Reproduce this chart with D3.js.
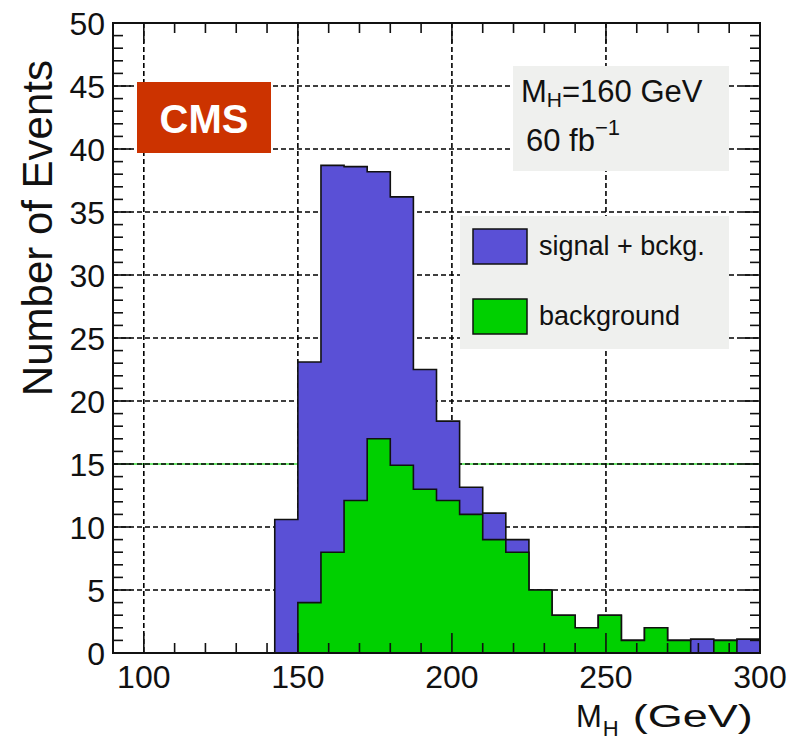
<!DOCTYPE html>
<html>
<head>
<meta charset="utf-8">
<script src="https://cdn.jsdelivr.net/npm/d3@7"></script>
<style>
    body { margin: 0; background: #fff; }
    text { font-family: "Liberation Sans", Arial, Helvetica, sans-serif; }
</style>
</head>
<body>
<div id="chart"></div>
<script>
// Histogram bin edges (GeV)
var binEdges = [142.5, 150, 157.5, 165, 172.5, 180, 187.5, 195, 202.5, 210, 217.5,
    225, 232.5, 240, 247.5, 255, 262.5, 270, 277.5, 285, 292.5, 300];

// Events per bin
var signalBkg = [10.6, 23.1, 38.7, 38.6, 38.2, 36.2, 22.5, 18.4, 13.15, 11.1, 9.0,
    5.0, 3.0, 2.0, 3.0, 1.0, 2.0, 1.0, 1.1, 1.0, 1.1];
var background = [0, 4.0, 8.0, 12.1, 17.0, 14.9, 13.0, 12.1, 11.0, 9.0, 8.0,
    5.0, 3.0, 2.0, 3.0, 1.0, 2.0, 1.0, 0, 1.0, 0];

// Axis ticks
var xTicks = [100, 150, 200, 250, 300];
var xGrid = [100, 150, 200, 250];
var yTicks = [0, 5, 10, 15, 20, 25, 30, 35, 40, 45, 50];
var yGrid = [5, 10, 15, 20, 25, 30, 35, 40, 45];

var svgWidth = 791;
var svgHeight = 746;

var margin = { top: 23, right: 31, bottom: 93, left: 113 };
var width = svgWidth - margin.left - margin.right;
var height = svgHeight - margin.top - margin.bottom;

var blue = "#5a50d6";
var green = "#00d000";
var boxFill = "#eff0ee";

var svg = d3.select("#chart")
    .append("svg")
    .attr("width", svgWidth)
    .attr("height", svgHeight);

var chartGroup = svg.append("g")
    .attr("transform", `translate(${margin.left}, ${margin.top})`);

var xScale = d3.scaleLinear().domain([90, 300]).range([0, width]);
var yScale = d3.scaleLinear().domain([0, 50]).range([height, 0]);

// Grid lines (behind everything)
var grid = chartGroup.append("g");
grid.append("line")
    .attr("x1", 0).attr("x2", width)
    .attr("y1", yScale(15)).attr("y2", yScale(15))
    .attr("stroke", "#3ee03e").attr("stroke-width", 1.5);
grid.selectAll(".hgrid")
    .data(yGrid)
    .enter()
    .append("line")
    .attr("x1", 0).attr("x2", width)
    .attr("y1", d => yScale(d)).attr("y2", d => yScale(d))
    .attr("stroke", "#000").attr("stroke-width", 1.6)
    .attr("stroke-dasharray", "5,3");
grid.selectAll(".vgrid")
    .data(xGrid)
    .enter()
    .append("line")
    .attr("x1", d => xScale(d)).attr("x2", d => xScale(d))
    .attr("y1", 0).attr("y2", height)
    .attr("stroke", "#000").attr("stroke-width", 1.6)
    .attr("stroke-dasharray", "5,3");

// Build a step outline for a histogram
function histPoints(values) {
    var pts = [[binEdges[0], 0]];
    values.forEach(function(v, i) {
        pts.push([binEdges[i], v]);
        pts.push([binEdges[i + 1], v]);
    });
    pts.push([binEdges[binEdges.length - 1], 0]);
    return pts;
}

var stepLine = d3.line()
    .x(d => xScale(d[0]))
    .y(d => yScale(d[1]));

chartGroup.append("path")
    .attr("d", stepLine(histPoints(signalBkg)) + "Z")
    .attr("fill", blue)
    .attr("stroke", "#111")
    .attr("stroke-width", 1.6)
    .attr("stroke-linejoin", "miter");

chartGroup.append("path")
    .attr("d", stepLine(histPoints(background)) + "Z")
    .attr("fill", green)
    .attr("stroke", "#111")
    .attr("stroke-width", 1.6)
    .attr("stroke-linejoin", "miter");

// Info box
svg.append("rect")
    .attr("x", 513).attr("y", 66)
    .attr("width", 216).attr("height", 105)
    .attr("fill", boxFill);

var info1 = svg.append("text")
    .attr("x", 521).attr("y", 102)
    .attr("font-size", 31)
    .attr("fill", "#111");
info1.append("tspan").text("M");
info1.append("tspan").attr("font-size", 21).attr("dy", 5).text("H");
info1.append("tspan").attr("dy", -5).text("=");
info1.append("tspan").text("160 GeV");

var info2 = svg.append("text")
    .attr("x", 526).attr("y", 151)
    .attr("font-size", 31)
    .attr("fill", "#111");
info2.append("tspan").text("60 fb");
info2.append("tspan").attr("font-size", 22).attr("dy", -16).text("\u22121");

// Legend
svg.append("rect")
    .attr("x", 460).attr("y", 216)
    .attr("width", 269).attr("height", 133)
    .attr("fill", boxFill);

var legendItems = [
    { label: "signal + bckg.", color: blue, y: 229 },
    { label: "background", color: green, y: 299 }
];

var legend = svg.selectAll(".legendItem")
    .data(legendItems)
    .enter()
    .append("g");

legend.append("rect")
    .attr("x", 473)
    .attr("y", d => d.y)
    .attr("width", 54)
    .attr("height", 35)
    .attr("fill", d => d.color)
    .attr("stroke", "#111")
    .attr("stroke-width", 1.5);

legend.append("text")
    .attr("x", 539)
    .attr("y", d => d.y + 26)
    .attr("font-size", 27)
    .attr("fill", "#111")
    .text(d => d.label);

// CMS label
svg.append("rect")
    .attr("x", 137).attr("y", 82)
    .attr("width", 134).attr("height", 71)
    .attr("fill", "#cc3300");
svg.append("text")
    .attr("x", 204).attr("y", 133)
    .attr("text-anchor", "middle")
    .attr("font-size", 40)
    .attr("font-weight", "bold")
    .attr("fill", "#fff")
    .text("CMS");

// Axes with ROOT-style ticks on all four sides
var axes = chartGroup.append("g");
var xMinor = d3.range(90, 301, 10);
var yMinor = d3.range(0, 51, 1);

axes.selectAll(".xminor")
    .data(xMinor)
    .enter()
    .append("g")
    .each(function(d) {
        var len = xTicks.indexOf(d) >= 0 ? 20 : 10;
        var g = d3.select(this);
        g.append("line")
            .attr("x1", xScale(d)).attr("x2", xScale(d))
            .attr("y1", height).attr("y2", height - len);
        g.append("line")
            .attr("x1", xScale(d)).attr("x2", xScale(d))
            .attr("y1", 0).attr("y2", len);
    });

axes.selectAll(".yminor")
    .data(yMinor)
    .enter()
    .append("g")
    .each(function(d) {
        var len = d % 5 === 0 ? 18 : 10;
        var g = d3.select(this);
        g.append("line")
            .attr("x1", 0).attr("x2", len)
            .attr("y1", yScale(d)).attr("y2", yScale(d));
        g.append("line")
            .attr("x1", width).attr("x2", width - len)
            .attr("y1", yScale(d)).attr("y2", yScale(d));
    });

axes.selectAll("line")
    .attr("stroke", "#111")
    .attr("stroke-width", 1.6);

axes.append("rect")
    .attr("x", 0).attr("y", 0)
    .attr("width", width).attr("height", height)
    .attr("fill", "none")
    .attr("stroke", "#111")
    .attr("stroke-width", 2);

// Tick labels
chartGroup.selectAll(".xlabel")
    .data(xTicks)
    .enter()
    .append("text")
    .attr("x", d => xScale(d))
    .attr("y", height + 35)
    .attr("text-anchor", "middle")
    .attr("font-size", 32)
    .attr("fill", "#111")
    .text(d => d);

chartGroup.selectAll(".ylabel")
    .data(yTicks)
    .enter()
    .append("text")
    .attr("x", -8)
    .attr("y", d => yScale(d))
    .attr("dy", "0.36em")
    .attr("text-anchor", "end")
    .attr("font-size", 32)
    .attr("fill", "#111")
    .text(d => d);

// Axis titles
var xTitle = svg.append("text")
    .attr("x", 576).attr("y", 727)
    .attr("font-size", 31)
    .attr("fill", "#111");
xTitle.append("tspan").text("M");
xTitle.append("tspan").attr("font-size", 22).attr("dy", 9).attr("dx", 1).text("H");
xTitle.append("tspan").attr("dy", -9).attr("dx", 14)
    .attr("textLength", 120).attr("lengthAdjust", "spacingAndGlyphs")
    .text("(GeV)");

svg.append("text")
    .attr("transform", "translate(52, 60) rotate(-90)")
    .attr("text-anchor", "end")
    .attr("font-size", 42)
    .attr("fill", "#111")
    .text("Number of Events");
</script>
</body>
</html>
